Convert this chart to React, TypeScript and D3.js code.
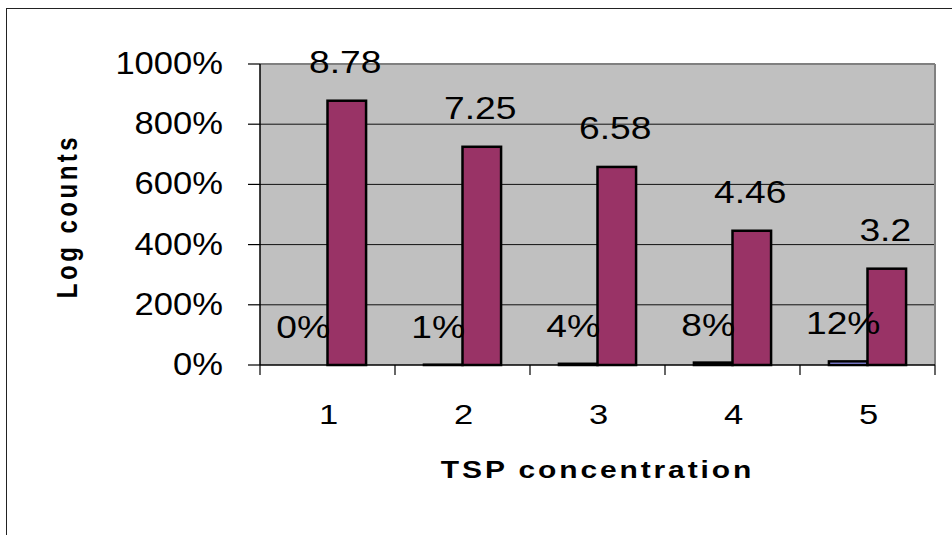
import React from "react";
import * as d3 from "d3";

const categories = ["1", "2", "3", "4", "5"];
const tspConcentration = [0, 0.01, 0.04, 0.08, 0.12];
const logCounts = [8.78, 7.25, 6.58, 4.46, 3.2];
const tspLabels = ["0%", "1%", "4%", "8%", "12%"];
const logLabels = ["8.78", "7.25", "6.58", "4.46", "3.2"];
const yTicks = [0, 2, 4, 6, 8, 10];
const xTitle = "TSP concentration";
const yTitle = "Log counts";

const W = 952;
const H = 535;
const PL = 260;
const PR = 935;
const PT = 64;
const PB = 365;
const FONT = "'Liberation Sans', Arial, Helvetica, sans-serif";

export default function App() {
  const x = d3.scaleBand<string>().domain(categories).range([PL, PR]).padding(0);
  const step = x.step();
  const barW = step / 3.5;
  const inner = d3
    .scaleBand<string>()
    .domain(["tsp", "log"])
    .range([0.75 * barW, step - 0.75 * barW])
    .padding(0);
  const y = d3.scaleLinear().domain([0, 10]).range([PB, PT]);
  const fmt = d3.format(".0%");

  const T = (
    key: string,
    tx: number,
    ty: number,
    txt: string,
    size: number,
    sx: number,
    anchor: string,
    extra: any = {}
  ) => (
    <text
      key={key}
      transform={`translate(${tx},${ty}) scale(${sx},1)`}
      textAnchor={anchor}
      fontFamily={FONT}
      fontSize={size}
      fill="#000"
      {...extra}
    >
      {txt}
    </text>
  );

  return (
    <svg
      width={W}
      height={H}
      style={{ position: "absolute", left: 0, top: 0, background: "#fff" }}
    >
      {/* chart area border */}
      <rect x={6.5} y={8.5} width={1200} height={1200} fill="#fff" stroke="#222" strokeWidth={1} />

      {/* plot area */}
      <rect x={PL} y={PT} width={PR - PL} height={PB - PT} fill="#C0C0C0" />
      {yTicks.slice(1, -1).map((t) => (
        <line key={"g" + t} x1={PL} x2={PR} y1={y(t)} y2={y(t)} stroke="#111" strokeWidth={1} />
      ))}
      <line x1={PL} x2={PR} y1={PT} y2={PT} stroke="#808080" strokeWidth={2} />
      <line x1={PR} x2={PR} y1={PT} y2={PB} stroke="#808080" strokeWidth={2} />

      {/* bars: TSP concentration */}
      {categories.map((c, i) => (
        <rect
          key={"b1" + c}
          x={(x(c) as number) + (inner("tsp") as number)}
          y={y(tspConcentration[i])}
          width={inner.bandwidth()}
          height={PB - y(tspConcentration[i])}
          fill="#9999FF"
          stroke="#000"
          strokeWidth={2.5}
        />
      ))}
      {/* bars: log counts */}
      {categories.map((c, i) => (
        <rect
          key={"b2" + c}
          x={(x(c) as number) + (inner("log") as number)}
          y={y(logCounts[i])}
          width={inner.bandwidth()}
          height={PB - y(logCounts[i])}
          fill="#993366"
          stroke="#000"
          strokeWidth={2.5}
        />
      ))}

      {/* axes */}
      <line x1={PL} x2={PL} y1={PT} y2={PB} stroke="#000" strokeWidth={1.5} />
      <line x1={PL} x2={PR} y1={PB} y2={PB} stroke="#000" strokeWidth={1.5} />
      {yTicks.map((t) => (
        <line key={"yt" + t} x1={PL - 12} x2={PL} y1={y(t)} y2={y(t)} stroke="#000" strokeWidth={1.2} />
      ))}
      {[...categories.map((c) => x(c) as number), PR].map((v, i) => (
        <line key={"xt" + i} x1={v} x2={v} y1={PB} y2={PB + 10} stroke="#000" strokeWidth={1.2} />
      ))}

      {/* data labels */}
      {categories.map((c, i) =>
        T(
          "l1" + c,
          (x(c) as number) + (inner("tsp") as number) + inner.bandwidth() / 2 - 5,
          y(tspConcentration[i]) - 27,
          tspLabels[i],
          31,
          1.2,
          "middle"
        )
      )}
      {categories.map((c, i) =>
        T(
          "l2" + c,
          (x(c) as number) + (inner("log") as number) + inner.bandwidth() / 2 - 1.5,
          y(logCounts[i]) - 28,
          logLabels[i],
          31,
          1.2,
          "middle"
        )
      )}

      {/* y tick labels */}
      {yTicks.map((t) => T("yl" + t, 223, y(t) + 10, fmt(t), 32, 1.08, "end"))}

      {/* x tick labels */}
      {categories.map((c) =>
        T("xl" + c, (x(c) as number) + step / 2 + 1, 424, c, 27, 1.28, "middle")
      )}

      {/* axis titles */}
      {T("xt", (PL + PR) / 2, 478, xTitle, 24, 1.25, "middle", {
        fontWeight: "bold",
        letterSpacing: 2.3,
      })}
      <text
        transform={`translate(77,216) rotate(-90) scale(1,1.25)`}
        textAnchor="middle"
        fontFamily={FONT}
        fontSize={24}
        fontWeight="bold"
        letterSpacing={3.5}
        fill="#000"
      >
        {yTitle}
      </text>
    </svg>
  );
}
